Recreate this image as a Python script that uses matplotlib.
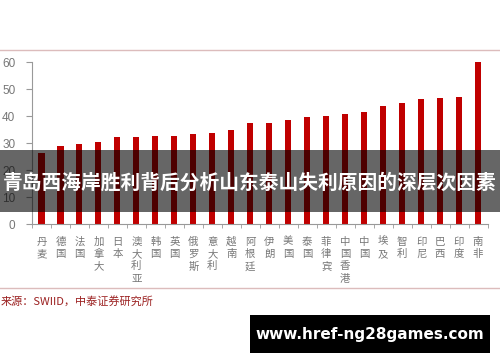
import matplotlib.pyplot as plt
from matplotlib.patches import Rectangle
from matplotlib.lines import Line2D

# 数据
countries = ['丹麦', '德国', '法国', '加拿大', '日本', '澳大利亚', '韩国', '英国',
             '俄罗斯', '意大利', '越南', '阿根廷', '伊朗', '美国', '泰国', '菲律宾',
             '中国香港', '中国', '埃及', '智利', '印尼', '巴西', '印度', '南非']
gini = [26.5, 29.0, 29.5, 30.4, 32.3, 32.3, 32.8, 32.8, 33.2, 33.7, 34.9, 37.4,
        37.4, 38.4, 39.5, 40.0, 40.9, 41.4, 43.8, 44.7, 46.3, 46.8, 47.1, 59.9]
yticks = [0, 10, 20, 30, 40, 50, 60]

title = '青岛西海岸胜利背后分析山东泰山失利原因的深层次因素'
source = '来源：SWIID，中泰证券研究所'
site = 'www.href-ng28games.com'

cjk = ['Noto Sans CJK SC', 'DejaVu Sans']

fig = plt.figure(figsize=(5, 3.62), dpi=100)
ax = fig.add_axes([0.064, 0.381, 0.911, 0.4475])

x = range(len(countries))
ax.bar(x, gini, width=0.32, color='#c00000', zorder=2)

ax.set_xlim(-0.5, len(countries) - 0.5)
ax.set_ylim(0, 60)
ax.set_yticks(yticks)
ax.set_yticklabels([str(v) for v in yticks], family='Liberation Sans', fontsize=8.5, color='#777777')
ax.tick_params(axis='y', length=4, color='#999999', pad=8)

ax.set_xticks(list(x))
ax.set_xticklabels(['\n'.join(c) for c in countries], family=cjk, fontsize=7.5,
                   color='#777777', linespacing=1.3, va='top')
ax.tick_params(axis='x', which='major', length=0, pad=9)
ax.set_xticks([i - 0.5 for i in range(len(countries) + 1)], minor=True)
ax.tick_params(axis='x', which='minor', length=3, color='#999999')

for s in ['top', 'right']:
    ax.spines[s].set_visible(False)
for s in ['left', 'bottom']:
    ax.spines[s].set_color('#999999')
    ax.spines[s].set_linewidth(0.8)

# 上下分隔线
fig.add_artist(Line2D([0, 1], [1 - 50 / 362, 1 - 50 / 362], color='#dcbcbc', lw=1))
fig.add_artist(Line2D([0, 1], [1 - 288 / 362, 1 - 288 / 362], color='#dcbcbc', lw=1))

fig.text(0.002, 1 - 301 / 362, source, family=cjk, fontsize=8, color='#9b2020',
         ha='left', va='center')

# 标题横幅
fig.add_artist(Rectangle((0, 1 - 212 / 362), 1, 62 / 362, transform=fig.transFigure,
                         facecolor='black', alpha=0.6, edgecolor='none', zorder=10))
fig.text(0.5, 1 - 183 / 362, title, family=cjk, fontsize=14.2, fontweight='bold',
         color='white', ha='center', va='center', zorder=11)

# 网址水印
fig.add_artist(Rectangle((0.5, 1 - 353 / 362), 0.48, 38 / 362, transform=fig.transFigure,
                         facecolor='black', edgecolor='none', zorder=10))
fig.text(0.74, 1 - 334 / 362, site, family='DejaVu Sans', fontsize=11, fontweight='bold',
         color='white', ha='center', va='center', zorder=11)

fig.savefig('out.png', dpi=100)
